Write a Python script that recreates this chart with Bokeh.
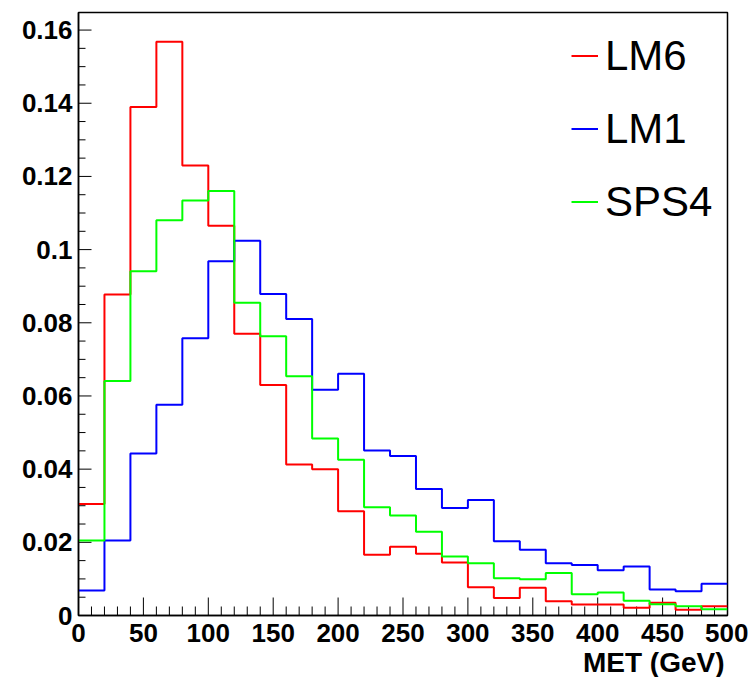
from bokeh.plotting import figure
from bokeh.models import FixedTicker, Legend, LegendItem, Title
from bokeh.embed import file_html
from bokeh.resources import INLINE

# ---- data ----
bin_edges = [0, 20, 40, 60, 80, 100, 120, 140, 160, 180, 200, 220, 240, 260, 280,
             300, 320, 340, 360, 380, 400, 420, 440, 460, 480, 500]
lm6 = [0.0305, 0.0877, 0.139, 0.1568, 0.123, 0.1065, 0.077, 0.063, 0.0413, 0.0400,
       0.0285, 0.0166, 0.0188, 0.0169, 0.0145, 0.0077, 0.0048, 0.0076, 0.0039, 0.0030,
       0.0030, 0.0021, 0.0035, 0.0016, 0.0025]
lm1 = [0.0068, 0.0205, 0.0443, 0.0576, 0.0758, 0.0968, 0.1024, 0.0879, 0.0810, 0.0617,
       0.0661, 0.0451, 0.0436, 0.0346, 0.0294, 0.0316, 0.0203, 0.0180, 0.0143, 0.0138,
       0.0124, 0.0134, 0.0071, 0.0066, 0.0087]
sps4 = [0.0205, 0.0641, 0.0941, 0.1080, 0.1134, 0.1160, 0.0855, 0.0763, 0.0654, 0.0484,
        0.0426, 0.0296, 0.0273, 0.0229, 0.0161, 0.0143, 0.0102, 0.0099, 0.0116, 0.0058,
        0.0063, 0.0040, 0.0031, 0.0025, 0.0017]
series_names = ["LM6", "LM1", "SPS4"]
series_colors = ["#ff0000", "#0000ff", "#00ff00"]

x_ticks = [0, 50, 100, 150, 200, 250, 300, 350, 400, 450, 500]
x_minor = list(range(0, 501, 10))
y_ticks = [0, 0.02, 0.04, 0.06, 0.08, 0.10, 0.12, 0.14, 0.16]
y_tick_labels = ["0", "0.02", "0.04", "0.06", "0.08", "0.1", "0.12", "0.14", "0.16"]
y_minor = [round(i * 0.005, 4) for i in range(0, 34)]
x_title = "MET (GeV)"

FONT = "Liberation Sans"
X0, X1 = 0, 500
Y0, Y1 = 0, 0.1648
FW, FH = 649, 603

p = figure(frame_width=FW, frame_height=FH,
           x_range=(X0, X1), y_range=(Y0, Y1),
           output_backend="svg", toolbar_location=None,
           min_border_left=78, min_border_right=21, min_border_top=12, min_border_bottom=10)

p.background_fill_color = "white"
p.border_fill_color = "white"
p.outline_line_color = "black"
p.outline_line_width = 1.5
p.xgrid.visible = False
p.ygrid.visible = False

# tick marks drawn inside the frame (ROOT style); lengths converted from pixels
px_x = (X1 - X0) / FW
px_y = (Y1 - Y0) / FH
xt_major = [t for t in x_ticks]
xt_minor = [t for t in x_minor if t not in x_ticks]
p.segment(x0=xt_major, y0=[Y0] * len(xt_major), x1=xt_major, y1=[Y0 + 18 * px_y] * len(xt_major),
          line_color="black", line_width=1)
p.segment(x0=xt_minor, y0=[Y0] * len(xt_minor), x1=xt_minor, y1=[Y0 + 9 * px_y] * len(xt_minor),
          line_color="black", line_width=1)
yt_minor = [t for t in y_minor if all(abs(t - m) > 1e-9 for m in y_ticks)]
p.segment(x0=[X0] * len(y_ticks), y0=y_ticks, x1=[X0 + 13 * px_x] * len(y_ticks), y1=y_ticks,
          line_color="black", line_width=1)
p.segment(x0=[X0] * len(yt_minor), y0=yt_minor, x1=[X0 + 7 * px_x] * len(yt_minor), y1=yt_minor,
          line_color="black", line_width=1)

renderers = []
for vals, col in zip([lm6, lm1, sps4], series_colors):
    r = p.step(x=bin_edges, y=vals + [vals[-1]], mode="after",
               line_color=col, line_width=2)
    renderers.append(r)

# axes
for ax in (p.xaxis[0], p.yaxis[0]):
    ax.axis_line_color = "black"
    ax.axis_line_width = 1.5
    ax.major_tick_line_color = None
    ax.minor_tick_line_color = None
    ax.major_tick_out = 0
    ax.minor_tick_out = 0
    ax.major_tick_in = 0
    ax.minor_tick_in = 0
    ax.major_label_text_font = FONT
    ax.major_label_text_font_style = "bold"
    ax.major_label_text_font_size = "26px"
    ax.major_label_text_color = "black"

p.xaxis.ticker = FixedTicker(ticks=x_ticks, minor_ticks=x_minor)
p.xaxis.major_label_standoff = 8

p.yaxis.ticker = FixedTicker(ticks=y_ticks, minor_ticks=y_minor)
p.yaxis.major_label_overrides = {t: l for t, l in zip(y_ticks, y_tick_labels)}
p.yaxis.major_label_standoff = 6

p.add_layout(Title(text=x_title, align="right", text_font=FONT,
                   text_font_style="bold", text_font_size="28px",
                   text_color="black", standoff=0, offset=3), "below")

legend = Legend(items=[LegendItem(label=n, renderers=[r]) for n, r in zip(series_names, renderers)],
                location=(493, 377), orientation="vertical",
                label_text_font=FONT, label_text_font_size="42px",
                label_text_color="black",
                glyph_width=27, glyph_height=73, label_height=73,
                spacing=0, padding=0, margin=0, label_standoff=7,
                border_line_alpha=0, background_fill_alpha=0)
p.add_layout(legend)

open("out.html", "w").write(file_html(p, INLINE))
